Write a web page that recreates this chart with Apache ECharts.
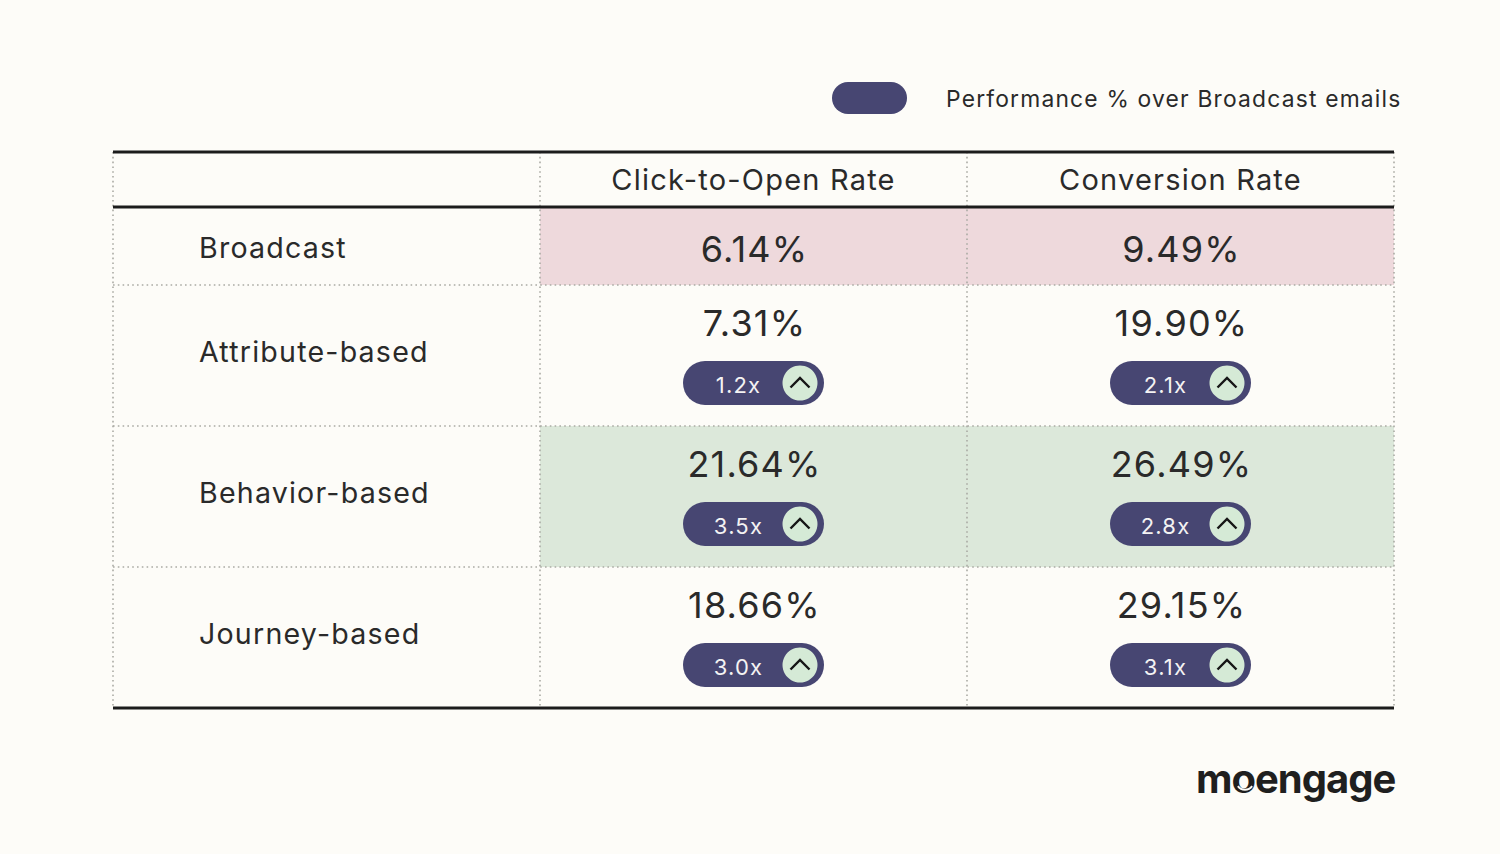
<![CDATA[<!DOCTYPE html>
<html>
<head>
<meta charset="utf-8">
<title>Email performance</title>
<style>
  html, body { margin: 0; padding: 0; background: #fdfcf8; overflow: hidden; }
  #chart { width: 1500px; height: 854px; overflow: hidden; }
  #chart svg { display: block; }
  /* the original lettering is widely spaced, ECharts has no option for this */
  #chart text { letter-spacing: 1.2px; }
  #chart text[style*="700"] { letter-spacing: -1px; }
</style>
<script src="https://cdn.jsdelivr.net/npm/echarts@6/dist/echarts.min.js"></script>
</head>
<body><div id="chart"></div><script>
// data read off the picture
const columnNames = ['Click-to-Open Rate', 'Conversion Rate'];
const campaignTypes = ['Broadcast', 'Attribute-based', 'Behavior-based', 'Journey-based'];
const clickToOpenRate = [6.14, 7.31, 21.64, 18.66];
const conversionRate = [9.49, 19.90, 26.49, 29.15];
const clickToOpenLift = [null, 1.2, 3.5, 3.0];
const conversionLift = [null, 2.1, 2.8, 3.1];
const legendLabel = 'Performance % over Broadcast emails';

// row heights in y axis units, the header comes first
const rowHeights = [55, 78, 141, 141, 141];
const rowTints = ['#eed9dc', null, '#dce8da', null];

const FONT = 'Inter';
const INK = '#2a2a2a';
const PILL = '#474672';
const MINT = '#d5ead6';
const BG = '#fdfcf8';

// top edge of every row, plus the bottom of the table
const rowEdges = [0];
rowHeights.forEach((h) => rowEdges.push(rowEdges[rowEdges.length - 1] + h));

const chart = echarts.init(document.getElementById('chart'), null, { renderer: 'svg' });

// tinted cells
const tintData = [];
rowTints.forEach((tint, row) => {
    if (tint) {
        tintData.push([1, row, tint]);
        tintData.push([2, row, tint]);
    }
});

function renderTint(params, api) {
    const col = api.value(0);
    const row = api.value(1);
    const top = api.coord([col, rowEdges[row + 1]]);
    const bottom = api.coord([col, rowEdges[row + 2]]);
    const w = api.size([1, 0])[0];
    return {
        type: 'rect',
        shape: { x: top[0] - w / 2, y: top[1], width: w, height: bottom[1] - top[1] },
        style: { fill: tintData[params.dataIndex][2] }
    };
}

// table rules: kind 0 = horizontal at a row edge, kind 1 = vertical at a column edge
const ruleData = [];
rowEdges.forEach((_, i) => ruleData.push([0, i]));
[0, 1, 2, 3].forEach((i) => ruleData.push([1, i]));

function renderRule(params, api) {
    const kind = api.value(0);
    const i = api.value(1);
    const w = api.size([1, 0])[0];
    const left = api.coord([0, 0])[0] - w / 2;
    const top = api.coord([0, 0])[1];
    const bottom = api.coord([0, rowEdges[rowEdges.length - 1]])[1];
    const dotted = { stroke: '#aaaaa4', lineWidth: 1.6, lineDash: [1.6, 3.2] };
    if (kind === 0) {
        const y = api.coord([0, rowEdges[i]])[1];
        const solid = i === 0 || i === 1 || i === rowEdges.length - 1;
        return {
            type: 'line',
            z2: solid ? 5 : 1,
            shape: { x1: left, y1: y, x2: left + w * 3, y2: y },
            style: solid ? { stroke: '#1c1c1c', lineWidth: 3 } : dotted
        };
    }
    const x = left + w * i;
    return {
        type: 'line',
        z2: 1,
        shape: { x1: x, y1: top, x2: x, y2: bottom },
        style: dotted
    };
}

// header texts and row names
const headerData = columnNames.map((name, i) => [i + 1, name]);

function renderHeader(params, api) {
    const p = api.coord([api.value(0), rowHeights[0] / 2 - 0.5]);
    return {
        type: 'text',
        style: {
            x: p[0], y: p[1],
            text: headerData[params.dataIndex][1],
            align: 'center', verticalAlign: 'middle',
            font: '400 29px ' + FONT, fill: INK
        }
    };
}

const nameData = campaignTypes.map((name, row) => [0, row, name]);

function renderName(params, api) {
    const row = api.value(1);
    const p = api.coord([0, (rowEdges[row + 1] + rowEdges[row + 2]) / 2]);
    const w = api.size([1, 0])[0];
    return {
        type: 'text',
        style: {
            x: p[0] - w / 2 + 86, y: p[1] - (row === 0 ? -1 : 4),
            text: campaignTypes[row],
            align: 'left', verticalAlign: 'middle',
            font: '400 28.6px ' + FONT, fill: INK
        }
    };
}

// rate values, in the upper part of the cell when a lift pill sits under them
const rateData = [];
campaignTypes.forEach((_, row) => {
    rateData.push([1, row, clickToOpenRate[row], clickToOpenLift[row]]);
    rateData.push([2, row, conversionRate[row], conversionLift[row]]);
});

function renderRate(params, api) {
    const row = api.value(1);
    const hasLift = rateData[params.dataIndex][3] !== null;
    const yVal = hasLift ? rowEdges[row + 1] + 37.5 : (rowEdges[row + 1] + rowEdges[row + 2]) / 2 + 2.5;
    const p = api.coord([api.value(0), yVal]);
    return {
        type: 'text',
        style: {
            x: p[0] + 1, y: p[1],
            text: api.value(2).toFixed(2) + '%',
            align: 'center', verticalAlign: 'middle',
            font: '400 36px ' + FONT, fill: INK
        }
    };
}

// lift pills
const pillData = rateData.filter((d) => d[3] !== null);

function renderPill(params, api) {
    const row = api.value(1);
    const c = api.coord([api.value(0), rowEdges[row + 1] + 98]);
    const cx = c[0];
    const cy = c[1];
    return {
        type: 'group',
        children: [
            {
                type: 'rect',
                shape: { x: cx - 70.5, y: cy - 22, width: 141, height: 44, r: 22 },
                style: { fill: api.visual('color') }
            },
            {
                type: 'circle',
                shape: { cx: cx + 46.5, cy: cy, r: 17.5 },
                style: { fill: MINT }
            },
            {
                type: 'polyline',
                shape: { points: [[cx + 37, cy + 4.5], [cx + 46.5, cy - 5], [cx + 56, cy + 4.5]] },
                style: { fill: 'none', stroke: '#161616', lineWidth: 2.4 }
            },
            {
                type: 'text',
                style: {
                    x: cx - 15, y: cy + 2,
                    text: api.value(3).toFixed(1) + 'x',
                    align: 'center', verticalAlign: 'middle',
                    font: '400 22px ' + FONT, fill: '#f4f3f3'
                }
            }
        ]
    };
}

function customSeries(name, data, renderItem, z) {
    return {
        type: 'custom', name: name, data: data, renderItem: renderItem,
        z: z, silent: true, clip: false, encode: { x: 0, y: 1 }
    };
}

const pillSeries = customSeries(legendLabel, pillData, renderPill, 5);
pillSeries.itemStyle = { color: PILL };

chart.setOption({
    animation: false,
    backgroundColor: BG,
    title: {
        text: 'moengage',
        left: 1196, top: 758.5, padding: 0,
        textStyle: { fontFamily: FONT, fontWeight: 700, fontSize: 40, color: '#1f1f1f' }
    },
    legend: {
        data: [legendLabel],
        left: 832, top: 82, padding: 0,
        icon: 'path://M16 0H59A16 16 0 0 1 59 32H16A16 16 0 0 1 16 0Z',
        itemWidth: 75, itemHeight: 32,
        selectedMode: false,
        textStyle: { fontFamily: FONT, fontSize: 22.8, color: INK, padding: [0, 0, 2, 34] }
    },
    grid: { left: 113, top: 152, width: 1281, height: 556 },
    xAxis: { type: 'category', data: ['', ...columnNames], show: false },
    yAxis: { type: 'value', inverse: true, min: 0, max: rowEdges[rowEdges.length - 1], show: false },
    graphic: [
        {
            // the gap in the logo's o
            type: 'arc', z: 11,
            shape: { cx: 1245, cy: 781, r: 8.8, startAngle: Math.PI * 0.2, endAngle: Math.PI * 0.8 },
            style: { fill: 'none', stroke: BG, lineWidth: 2 }
        }
    ],
    series: [
        customSeries('tint', tintData, renderTint, 1),
        customSeries('rules', ruleData, renderRule, 2),
        customSeries('header', headerData, renderHeader, 3),
        customSeries('names', nameData, renderName, 3),
        customSeries('rates', rateData, renderRate, 3),
        pillSeries
    ]
});
</script></body>
</html>
]]>
